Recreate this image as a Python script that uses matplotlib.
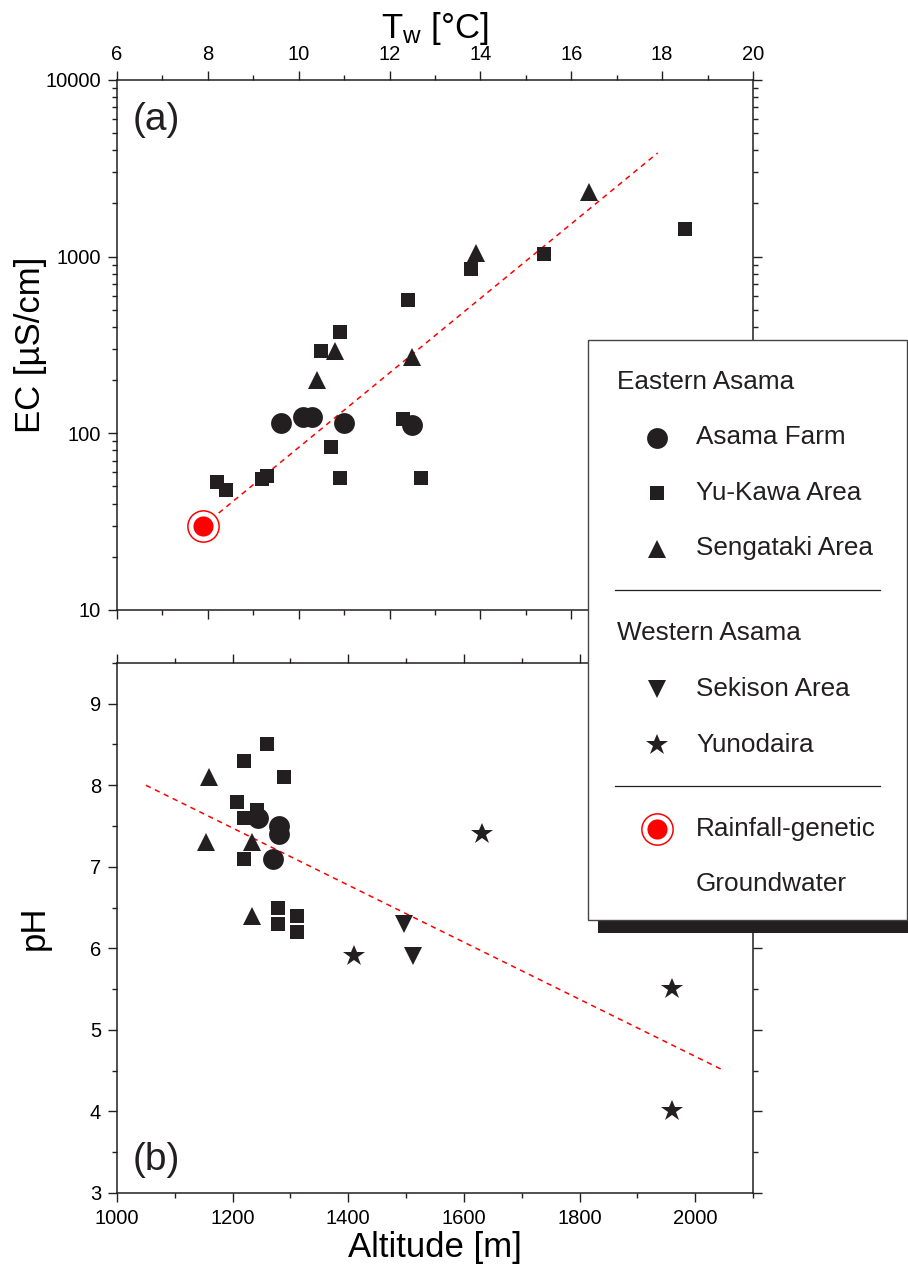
import numpy as np
import matplotlib
matplotlib.use("Agg")
import matplotlib.pyplot as plt
from matplotlib.patches import Rectangle
from matplotlib.ticker import MultipleLocator, FixedLocator, NullFormatter, LogLocator

plt.rcParams['font.family'] = ['Liberation Sans', 'DejaVu Sans']
plt.rcParams['mathtext.fontset'] = 'custom'
plt.rcParams['mathtext.rm'] = 'Liberation Sans'
plt.rcParams['mathtext.it'] = 'Liberation Sans'

INK = '#231f20'
RED = '#ff0000'

# --- (a) EC vs water temperature ---
tw_farm = [9.6, 10.1, 10.3, 11.0, 12.5]
ec_farm = [115, 124, 124, 115, 112]
tw_yukawa = [8.2, 8.4, 9.2, 9.3, 10.7, 10.9, 12.3, 12.7, 10.5, 10.9, 12.4, 13.8, 15.4, 18.5]
ec_yukawa = [53, 48, 55, 57, 84, 56, 120, 56, 294, 373, 571, 849, 1032, 1435]
tw_senga = [16.4, 13.9, 12.5, 10.8, 10.4]
ec_senga = [2325, 1045, 272, 294, 200]
tw_rain = [7.9]
ec_rain = [30]
tw_fit = [7.9, 17.9]
ec_fit = [30, 3860]

# --- (b) pH vs altitude ---
alt_farm = [1243, 1280, 1280, 1269]
ph_farm = [7.6, 7.5, 7.4, 7.1]
alt_yukawa = [1260, 1219, 1288, 1208, 1242, 1219, 1220, 1279, 1311, 1279, 1311]
ph_yukawa = [8.5, 8.3, 8.1, 7.8, 7.7, 7.6, 7.1, 6.5, 6.4, 6.3, 6.2]
alt_senga = [1159, 1154, 1233, 1233]
ph_senga = [8.1, 7.3, 7.3, 6.4]
alt_sekison = [1497, 1512]
ph_sekison = [6.3, 5.9]
alt_yuno = [1410, 1632, 1960, 1960]
ph_yuno = [5.9, 7.4, 5.5, 4.0]
alt_fit = [1050, 2050]
ph_fit = [8.0, 4.5]

# legend content
legend_groups = [
    ("Eastern Asama", [("Asama Farm", 'o'), ("Yu-Kawa Area", 's'), ("Sengataki Area", '^')]),
    ("Western Asama", [("Sekison Area", 'v'), ("Yunodaira", '*')]),
]
rain_label = ["Rainfall-genetic", "Groundwater"]

msize = {'o': 15, 's': 10.3, '^': 12.5, 'v': 12.5, '*': 16.5}


def pts(ax, x, y, m):
    ax.plot(x, y, linestyle='none', marker=m, ms=msize[m], color=INK,
            markeredgewidth=0, zorder=3)


def rain(ax, x, y):
    ax.plot(x, y, linestyle='none', marker='o', ms=22.5, mfc='white',
            mec=RED, mew=1.1, zorder=4)
    ax.plot(x, y, linestyle='none', marker='o', ms=14.5, mfc=RED,
            mew=0, zorder=5)


def style_axes(ax):
    for s in ax.spines.values():
        s.set_linewidth(1.1)
        s.set_color(INK)
    ax.tick_params(which='both', direction='out', color=INK, width=1.0,
                   labelsize=14.5, top=True, right=True, pad=5)
    ax.tick_params(which='major', length=6.5)
    ax.tick_params(which='minor', length=3.5)


fig = plt.figure(figsize=(9.08, 12.71), dpi=100)
ax1 = fig.add_axes([0.1289, 0.5201, 0.7004, 0.4170])
ax2 = fig.add_axes([0.1289, 0.0614, 0.7004, 0.4170])

# panel (a)
ax1.plot(tw_fit, ec_fit, color=RED, lw=1.1, dashes=(3.5, 3), zorder=2)
pts(ax1, tw_farm, ec_farm, 'o')
pts(ax1, tw_yukawa, ec_yukawa, 's')
pts(ax1, tw_senga, ec_senga, '^')
rain(ax1, tw_rain, ec_rain)
ax1.set_yscale('log')
ax1.set_xlim(6, 20)
ax1.set_ylim(10, 10000)
ax1.xaxis.set_major_locator(MultipleLocator(2))
ax1.xaxis.set_minor_locator(MultipleLocator(1))
ax1.yaxis.set_major_locator(FixedLocator([10, 100, 1000, 10000]))
ax1.yaxis.set_minor_locator(LogLocator(base=10, subs=np.arange(2, 10)))
ax1.yaxis.set_minor_formatter(NullFormatter())
ax1.set_yticklabels(['10', '100', '1000', '10000'])
style_axes(ax1)
ax1.tick_params(labeltop=True, labelbottom=False)
ax1.xaxis.set_label_position('top')
ax1.set_xlabel(r'T$_\mathrm{w}$ [°C]', fontsize=25, labelpad=5)
ax1.set_ylabel('EC [µS/cm]', fontsize=25)
ax1.yaxis.set_label_coords(-0.11, 0.5)
ax1.text(0.025, 0.925, '(a)', transform=ax1.transAxes, fontsize=28,
         ha='left', va='center', color=INK)

# panel (b)
ax2.plot(alt_fit, ph_fit, color=RED, lw=1.1, dashes=(3.5, 3), zorder=2)
pts(ax2, alt_farm, ph_farm, 'o')
pts(ax2, alt_yukawa, ph_yukawa, 's')
pts(ax2, alt_senga, ph_senga, '^')
pts(ax2, alt_sekison, ph_sekison, 'v')
pts(ax2, alt_yuno, ph_yuno, '*')
ax2.set_xlim(1000, 2100)
ax2.set_ylim(3, 9.5)
ax2.xaxis.set_major_locator(MultipleLocator(200))
ax2.xaxis.set_minor_locator(MultipleLocator(100))
ax2.yaxis.set_major_locator(MultipleLocator(1))
ax2.yaxis.set_minor_locator(MultipleLocator(0.5))
style_axes(ax2)
ax2.set_xlabel('Altitude [m]', fontsize=25, labelpad=2)
ax2.set_ylabel('pH', fontsize=25)
ax2.yaxis.set_label_coords(-0.105, 0.5)
ax2.text(0.025, 0.062, '(b)', transform=ax2.transAxes, fontsize=28,
         ha='left', va='center', color=INK)

# legend box drawn on an overlay in pixel units
lg = fig.add_axes([0, 0, 1, 1], zorder=10)
lg.set_xlim(0, 908)
lg.set_ylim(1271, 0)
lg.axis('off')
lg.add_patch(Rectangle((598, 353), 330, 580, facecolor=INK, edgecolor='none'))
lg.add_patch(Rectangle((588, 340), 319, 580, facecolor='white', edgecolor='#444444', lw=1.0))

y = 382
row = 55.5
for gi, (head, items) in enumerate(legend_groups):
    lg.text(617, y, head, fontsize=18.8, va='center', ha='left', color=INK)
    y += row
    for lab, m in items:
        lg.plot([657], [y], linestyle='none', marker=m, ms=msize[m], color=INK, mew=0)
        lg.text(696, y, lab, fontsize=18.8, va='center', ha='left', color=INK)
        y += row
    y_sep = y - row + 41
    lg.plot([615, 880], [y_sep, y_sep], color=INK, lw=0.9)
    y = y_sep + 44
y = 829
lg.plot([657], [y], linestyle='none', marker='o', ms=22.5, mfc='white', mec=RED, mew=1.1)
lg.plot([657], [y], linestyle='none', marker='o', ms=14.5, mfc=RED, mew=0)
lg.text(696, y, rain_label[0], fontsize=18.8, va='center', ha='left', color=INK)
lg.text(696, y + 55, rain_label[1], fontsize=18.8, va='center', ha='left', color=INK)

fig.savefig('out.png', dpi=100)
